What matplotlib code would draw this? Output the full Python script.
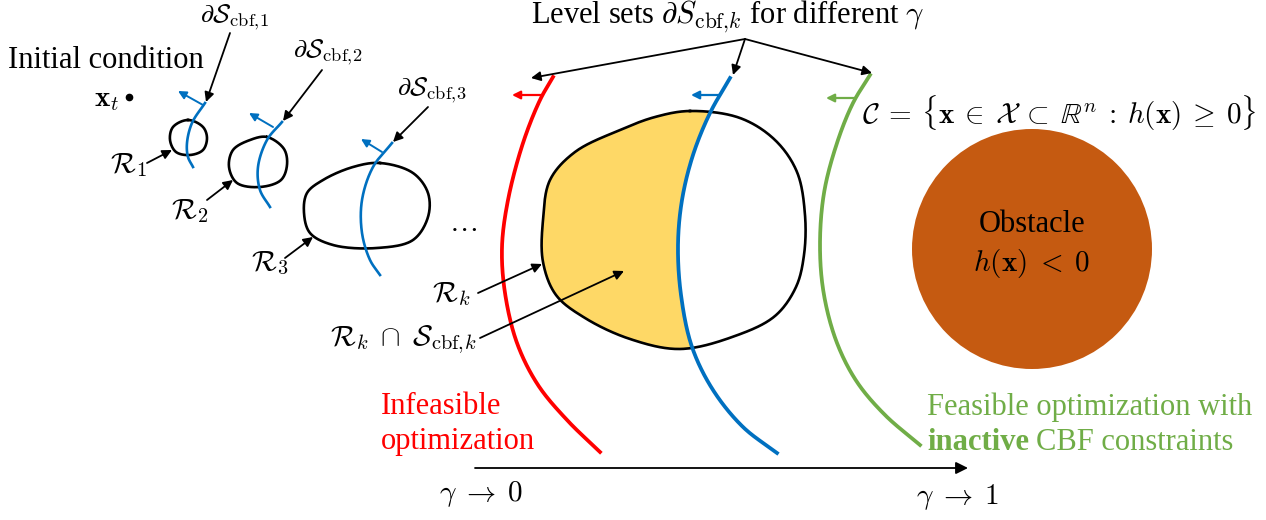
import numpy as np
import matplotlib
matplotlib.use("Agg")
import matplotlib.pyplot as plt
from matplotlib.patches import Polygon, Circle

plt.rcParams['font.family'] = ['Liberation Serif', 'DejaVu Serif']
plt.rcParams['mathtext.fontset'] = 'cm'

# ---- diagram geometry (pixel coordinates, y downwards) ----
loop_r1 = [(188, 120), (203, 127), (207, 138), (203, 150), (190, 155), (176, 152), (170, 140), (173, 127)]
loop_r2 = [(267, 137), (284, 149), (287, 165), (281, 180), (260, 187), (237, 183), (229, 167), (233, 150), (250, 140)]
loop_r3 = [(380, 163), (413, 173), (428, 193), (428, 217), (413, 240), (377, 248), (333, 245), (310, 233),
           (304, 213), (307, 193), (323, 180), (353, 167)]
cbf_1 = [(205, 103), (192, 123), (187, 143), (188, 157), (193, 167)]
cbf_2 = [(282, 122), (267, 140), (258, 167), (260, 190), (270, 207)]
cbf_3 = [(392, 143), (373, 167), (362, 200), (362, 233), (370, 260), (380, 275)]
region_k = [(690, 111), (740, 118), (775, 140), (797, 172), (805, 215), (804, 255), (796, 287),
            (775, 316), (735, 336), (680, 349), (630, 339), (585, 318), (556, 295), (543, 262),
            (543, 220), (550, 180), (575, 152), (620, 130), (655, 117)]
level_red = [(553, 77), (540, 100), (523, 143), (508, 200), (502, 247), (505, 293), (517, 343), (538, 385),
             (567, 420), (600, 452)]
level_blue = [(730, 78), (710, 113), (693, 155), (682, 200), (678, 245), (681, 295), (692, 347),
              (713, 390), (743, 427), (777, 453)]
level_green = [(870, 75), (853, 103), (837, 143), (824, 193), (820, 247), (824, 295), (837, 343), (857, 382),
               (885, 415), (920, 445)]
obstacle_center = (1032, 249)
obstacle_radius = 120

BLUE = '#0070C0'
RED = '#FF0000'
GREEN = '#70AD47'
YELLOW = '#FED866'
BROWN = '#C55A11'


def smooth(pts, n=30, closed=False, alpha=0.5):
    """Centripetal Catmull-Rom curve through the given control points."""
    P = np.asarray(pts, float)
    if closed:
        P = np.vstack([P[-1], P, P[0], P[1]])
    else:
        P = np.vstack([2 * P[0] - P[1], P, 2 * P[-1] - P[-2]])
    out = []
    for i in range(1, len(P) - 2):
        p0, p1, p2, p3 = P[i - 1], P[i], P[i + 1], P[i + 2]
        t0 = 0.0
        t1 = t0 + np.linalg.norm(p1 - p0) ** alpha
        t2 = t1 + np.linalg.norm(p2 - p1) ** alpha
        t3 = t2 + np.linalg.norm(p3 - p2) ** alpha
        t = np.linspace(t1, t2, n, endpoint=False)[:, None]
        A1 = (t1 - t) / (t1 - t0) * p0 + (t - t0) / (t1 - t0) * p1
        A2 = (t2 - t) / (t2 - t1) * p1 + (t - t1) / (t2 - t1) * p2
        A3 = (t3 - t) / (t3 - t2) * p2 + (t - t2) / (t3 - t2) * p3
        B1 = (t2 - t) / (t2 - t0) * A1 + (t - t0) / (t2 - t0) * A2
        B2 = (t3 - t) / (t3 - t1) * A2 + (t - t1) / (t3 - t1) * A3
        out.append((t2 - t) / (t2 - t1) * B1 + (t - t1) / (t2 - t1) * B2)
    out.append(P[-2][None, :])
    return np.vstack(out)


fig = plt.figure(figsize=(12.66, 5.2), dpi=100)
ax = fig.add_axes([0, 0, 1, 1])
ax.set_xlim(0, 1266)
ax.set_ylim(520, 0)
ax.axis('off')

FS = 21      # math labels
FT = 22      # plain text


def arrow(p_from, p_to, color='black', lw=1.3, ms=14):
    ax.annotate('', xy=p_to, xytext=p_from,
                arrowprops=dict(arrowstyle='-|>', color=color, lw=lw, mutation_scale=ms,
                                shrinkA=0, shrinkB=0))


# small reachable sets and level sets
for loop in (loop_r1, loop_r2, loop_r3):
    s = smooth(loop, closed=True)
    ax.plot(s[:, 0], s[:, 1], color='black', lw=1.9, solid_joinstyle='round')
for c in (cbf_1, cbf_2, cbf_3):
    s = smooth(c)
    ax.plot(s[:, 0], s[:, 1], color=BLUE, lw=1.9)

arrow((203, 105), (178, 91), color=BLUE, lw=1.4, ms=12)
arrow((273, 127), (249, 113), color=BLUE, lw=1.4, ms=12)
arrow((382, 152), (361, 139), color=BLUE, lw=1.4, ms=12)

arrow((230, 33), (206, 102))
arrow((322, 70), (283, 121))
arrow((428, 107), (393, 142))
arrow((147, 163), (172, 150))
arrow((207, 200), (233, 180))
arrow((285, 258), (313, 237))

ax.text(106, 60, 'Initial condition', fontsize=FT, ha='center', va='center')
ax.text(107, 100, r'$\mathbf{x}_t$', fontsize=FS, ha='center', va='center')
ax.plot([129], [97], 'o', color='black', ms=4.5)
ax.text(235, 17, r'$\partial\mathcal{S}_{\mathrm{cbf},\!1}$', fontsize=FS - 2, ha='center', va='center')
ax.text(328, 52, r'$\partial\mathcal{S}_{\mathrm{cbf},\!2}$', fontsize=FS - 2, ha='center', va='center')
ax.text(432, 90, r'$\partial\mathcal{S}_{\mathrm{cbf},\!3}$', fontsize=FS - 2, ha='center', va='center')
ax.text(128, 165, r'$\mathcal{R}_1$', fontsize=FS, ha='center', va='center')
ax.text(190, 211, r'$\mathcal{R}_2$', fontsize=FS, ha='center', va='center')
ax.text(270, 263, r'$\mathcal{R}_3$', fontsize=FS, ha='center', va='center')
ax.text(463, 224, r'$\ldots$', fontsize=FS, ha='center', va='center')

# big reachable set with yellow intersection
rk = smooth(region_k, closed=True)
blue_s = smooth(level_blue)
clip_pts = np.vstack([blue_s, [[0, blue_s[-1, 1]], [0, blue_s[0, 1]]]])
clip_poly = Polygon(clip_pts, closed=True, transform=ax.transData)
fill = Polygon(rk, closed=True, facecolor=YELLOW, edgecolor='none', zorder=1)
ax.add_patch(fill)
fill.set_clip_path(clip_poly)
ax.plot(rk[:, 0], rk[:, 1], color='black', lw=1.9, zorder=2)

for pts, col in ((level_red, RED), (level_blue, BLUE), (level_green, GREEN)):
    s = smooth(pts)
    ax.plot(s[:, 0], s[:, 1], color=col, lw=2.7, zorder=3)

arrow((542, 95), (512, 95), color=RED, lw=1.6, ms=12)
arrow((720, 95), (691, 95), color=BLUE, lw=1.6, ms=12)
arrow((855, 98), (826, 98), color=GREEN, lw=1.6, ms=12)

# level set labels
ax.text(728, 17, r'Level sets $\partial S_{\mathrm{cbf},\!k}$ for different $\gamma$', fontsize=FT,
        ha='center', va='center')
arrow((745, 39), (531, 78))
arrow((745, 39), (733, 75))
arrow((745, 39), (872, 73))

arrow((478, 293), (542, 264))
arrow((480, 338), (624, 271))
ax.text(451, 294, r'$\mathcal{R}_k$', fontsize=FS, ha='center', va='center')
ax.text(403, 340, r'$\mathcal{R}_k \;\cap\; \mathcal{S}_{\mathrm{cbf},\!k}$', fontsize=FS, ha='center', va='center')

ax.text(381, 407, 'Infeasible', fontsize=FT, color=RED, ha='left', va='center')
ax.text(381, 442, 'optimization', fontsize=FT, color=RED, ha='left', va='center')

# obstacle
ax.add_patch(Circle(obstacle_center, obstacle_radius, facecolor=BROWN, edgecolor='none'))
ax.text(1032, 225, 'Obstacle', fontsize=FT, ha='center', va='center')
ax.text(1032, 263, r'$h(\mathbf{x}) \;<\; 0$', fontsize=FS, ha='center', va='center')
ax.text(862, 113,
        r'$\mathcal{C} \:=\: \{\mathbf{x} \:\in\: \mathcal{X} \:\subset\: \mathbb{R}^n \::\: h(\mathbf{x}) \:\geq\: 0\}$',
        fontsize=FS, ha='left', va='center')

ax.text(927, 407, 'Feasible optimization with', fontsize=FT, color=GREEN, ha='left', va='center')
t_b = ax.text(927, 442, 'inactive', fontsize=FT, color=GREEN, ha='left', va='center', fontweight='bold')
fig.canvas.draw()
bb = t_b.get_window_extent()
x_end = ax.transData.inverted().transform((bb.x1, bb.y0))[0]
ax.text(x_end + 7, 442, 'CBF constraints', fontsize=FT, color=GREEN, ha='left', va='center')

# gamma axis
arrow((475, 468), (968, 468), lw=1.3, ms=18)
ax.text(481, 494, r'$\gamma \;\rightarrow\; 0$', fontsize=FS, ha='center', va='center')
ax.text(958, 497, r'$\gamma \;\rightarrow\; 1$', fontsize=FS, ha='center', va='center')

fig.savefig('out.png', dpi=100)
